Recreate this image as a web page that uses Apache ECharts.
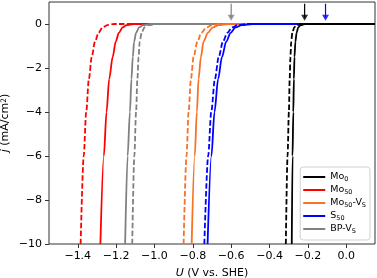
<!DOCTYPE html>
<html>
<head>
<meta charset="utf-8">
<script src="https://cdn.jsdelivr.net/npm/echarts@6/dist/echarts.min.js"></script>
<style>html,body{margin:0;padding:0;background:#fff}#c{width:377px;height:278px}</style>
</head>
<body>
<div id="c"></div>
<script>
// Current levels (mA/cm2) shared by each curve, and potentials read per curve
const jLevels = [-10, -6, -4, -2.5, -1.5, -0.8, -0.4, -0.15, -0.05, 0, 0];
const Mo0_solid   = [-0.284, -0.280, -0.276, -0.273, -0.270, -0.265, -0.259, -0.250, -0.238, -0.215, 0.15];
const Mo0_dashed  = [-0.315, -0.306, -0.299, -0.295, -0.291, -0.287, -0.281, -0.271, -0.258, -0.234, 0.15];
const Mo50_solid  = [-1.282, -1.264, -1.250, -1.236, -1.218, -1.202, -1.186, -1.166, -1.145, -1.110, 0.15];
const Mo50_dashed = [-1.385, -1.369, -1.356, -1.342, -1.327, -1.310, -1.292, -1.270, -1.245, -1.210, 0.15];
const Mo50Vs_solid  = [-0.806, -0.790, -0.779, -0.770, -0.758, -0.744, -0.722, -0.695, -0.665, -0.615, 0.15];
const Mo50Vs_dashed = [-0.848, -0.833, -0.822, -0.810, -0.796, -0.776, -0.756, -0.728, -0.700, -0.660, 0.15];
const S50_solid   = [-0.723, -0.703, -0.687, -0.668, -0.648, -0.626, -0.603, -0.577, -0.545, -0.490, 0.15];
const S50_dashed  = [-0.740, -0.720, -0.704, -0.685, -0.665, -0.643, -0.620, -0.595, -0.565, -0.520, 0.15];
const BPVs_solid  = [-1.153, -1.140, -1.128, -1.120, -1.113, -1.106, -1.096, -1.080, -1.060, -1.020, 0.15];
const BPVs_dashed = [-1.116, -1.105, -1.096, -1.089, -1.083, -1.077, -1.067, -1.052, -1.030, -0.990, 0.15];
// Arrow marks at the top: potentials, shaft top and arrow-head centre (mA/cm2)
const arrowGrayU = -0.600, arrowBlackU = -0.217, arrowBlueU = -0.108;
const arrowTop = 0.92, arrowHead = 0.28;
const xTicks = [-1.4, -1.2, -1.0, -0.8, -0.6, -0.4, -0.2, 0.0];
const yTicks = [-10, -8, -6, -4, -2, 0];
const legendNames = ['Mo0', 'Mo50', 'Mo50-VS', 'S50', 'BP-VS'];

const colors = {black:'#000000', red:'#ff0000', orange:'#f97124', blue:'#0000ff', gray:'#808080'};
const pairs = (u) => u.map((x, i) => [x, jLevels[i]]);
const minus = (s) => s.replace('-', '\u2212');
const FONT = 'DejaVu Sans';
const FS = 11;

function ser(name, u, color, dashed) {
  return {
    name: name, type: 'line', data: pairs(u), showSymbol: false, symbol: 'none',
    smooth: 0.3, smoothMonotone: 'x',
    lineStyle: {color: color, width: 1.8, type: dashed ? [5.5, 2.4] : 'solid'},
    itemStyle: {color: color}
  };
}
function arrowShaft(u, color) {
  return {type: 'line', name: 'shaft', data: [[u, arrowTop], [u, arrowHead]], symbol: 'none', silent: true,
    lineStyle: {color: color, width: 1.2}, z: 5};
}
function arrowTip(u, color) {
  return {type: 'scatter', name: 'head', data: [[u, arrowHead]], symbol: 'triangle', symbolRotate: 180,
    symbolSize: [7, 6], silent: true, itemStyle: {color: color}, z: 6};
}

const chart = echarts.init(document.getElementById('c'), null, {renderer: 'canvas'});
chart.setOption({
  animation: false,
  textStyle: {fontFamily: FONT},
  grid: {left: 49, right: 2, top: 2, bottom: 34, containLabel: false, outerBoundsMode: 'none',
    show: true, borderColor: '#333', borderWidth: 1, backgroundColor: 'transparent'},
  xAxis: {
    type: 'value', min: -1.55, max: 0.15,
    axisLine: {show: false, onZero: false},
    splitLine: {show: false},
    axisTick: {show: true, length: 4, lineStyle: {color: '#333'}, customValues: xTicks},
    axisLabel: {customValues: xTicks, margin: 7, fontSize: FS, color: '#000', fontFamily: FONT,
      formatter: v => minus(v.toFixed(1))},
    name: '{i|U} (V vs. SHE)', nameLocation: 'middle', nameGap: 24, nameMoveOverlap: false,
    nameTextStyle: {fontSize: FS, color: '#000', fontFamily: FONT,
      rich: {i: {fontStyle: 'italic', fontSize: FS, fontFamily: FONT}}}
  },
  yAxis: {
    type: 'value', min: -10, max: 1,
    axisLine: {show: false, onZero: false},
    splitLine: {show: false},
    axisTick: {show: true, length: 4, lineStyle: {color: '#333'}, customValues: yTicks},
    axisLabel: {customValues: yTicks, margin: 7, fontSize: FS, color: '#000', fontFamily: FONT,
      formatter: v => minus(String(v))},
    name: '{i|j} (mA/cm{sup|2})', nameLocation: 'middle', nameGap: 38, nameRotate: 90, nameMoveOverlap: false,
    nameTextStyle: {fontSize: FS, color: '#000', fontFamily: FONT,
      rich: {i: {fontStyle: 'italic', fontSize: FS, fontFamily: FONT},
             sup: {fontSize: 7.5, verticalAlign: 'top', fontFamily: FONT}}}
  },
  legend: {
    data: legendNames, orient: 'vertical', right: 7, bottom: 38,
    icon: 'rect', itemWidth: 22, itemHeight: 2, itemGap: 2,
    padding: [5, 4, 5, 3],
    backgroundColor: '#fff', borderColor: '#d0d0d0', borderWidth: 1, borderRadius: 3,
    textStyle: {fontSize: 9.5, color: '#000', fontFamily: FONT,
      rich: {sub: {fontSize: 6.5, verticalAlign: 'bottom', padding: [5, 0, 0, 0], fontFamily: FONT, color: '#000'}}},
    formatter: n => ({'Mo0': 'Mo{sub|0}', 'Mo50': 'Mo{sub|50}', 'Mo50-VS': 'Mo{sub|50}-V{sub|S}', 'S50': 'S{sub|50}', 'BP-VS': 'BP-V{sub|S}'})[n]
  },
  series: [
    ser('Mo50d', Mo50_dashed, colors.red, true),
    ser('Mo50', Mo50_solid, colors.red, false),
    ser('BP-VSd', BPVs_dashed, colors.gray, true),
    ser('BP-VS', BPVs_solid, colors.gray, false),
    ser('Mo50-VSd', Mo50Vs_dashed, colors.orange, true),
    ser('Mo50-VS', Mo50Vs_solid, colors.orange, false),
    ser('S50d', S50_dashed, colors.blue, true),
    ser('S50', S50_solid, colors.blue, false),
    ser('Mo0d', Mo0_dashed, colors.black, true),
    ser('Mo0', Mo0_solid, colors.black, false),
    arrowShaft(arrowGrayU, colors.gray), arrowTip(arrowGrayU, colors.gray),
    arrowShaft(arrowBlueU, colors.blue), arrowTip(arrowBlueU, colors.blue),
    arrowShaft(arrowBlackU, colors.black), arrowTip(arrowBlackU, colors.black)
  ]
});
</script>
</body>
</html>
